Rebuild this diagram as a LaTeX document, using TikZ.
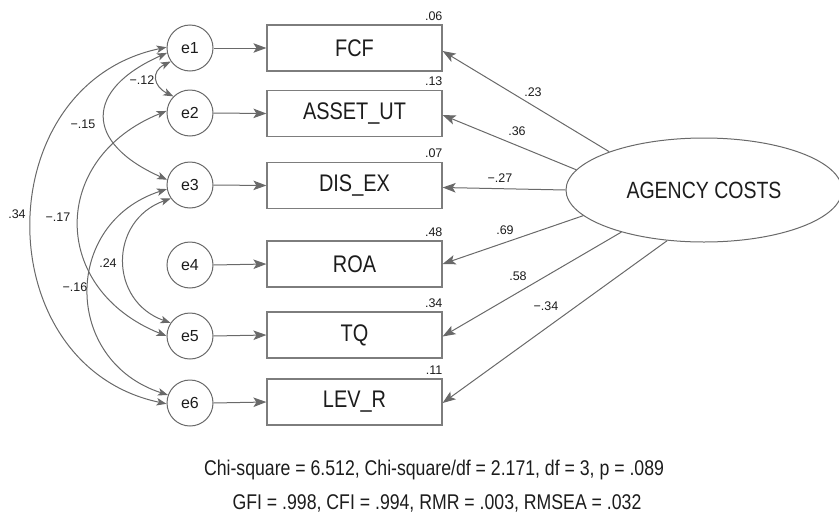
\documentclass[tikz,border=0pt]{standalone}
\usepackage{fontspec}
\setmainfont{Liberation Sans}[FakeStretch=0.83]
\newfontfamily\labelsans{Liberation Sans}
\usetikzlibrary{arrows.meta,shapes.geometric}
\definecolor{linegray}{RGB}{105,105,105}
\definecolor{boxgray}{RGB}{125,125,125}
\definecolor{ink}{RGB}{28,28,28}
\begin{document}
\begin{tikzpicture}[x=1pt,y=-1pt,
  conn/.style={draw=linegray, line width=1pt},
  path tip/.style={-{Stealth[length=13pt,width=9.5pt,inset=3pt]}},
  cov tip/.style={{Stealth[length=10pt,width=7.5pt,inset=2.5pt]}-{Stealth[length=10pt,width=7.5pt,inset=2.5pt]}},
  errnode/.style={circle, draw=linegray, line width=1pt, minimum size=46pt, inner sep=0pt,
    text=ink, font=\labelsans\fontsize{16}{16}\selectfont},
  obsnode/.style={rectangle, draw=boxgray, line width=1.2pt, minimum width=175pt,
    minimum height=46pt, inner sep=0pt, text=ink, font=\fontsize{24}{24}\selectfont},
  latnode/.style={ellipse, draw=linegray, line width=1pt, minimum width=276pt,
    minimum height=104pt, inner sep=0pt, text=ink, font=\fontsize{23.5}{23.5}\selectfont},
  rsq/.style={text=ink, inner sep=0pt, anchor=base east, font=\labelsans\fontsize{12.5}{12.5}\selectfont},
  coef/.style={text=ink, inner sep=0pt, font=\labelsans\fontsize{12.5}{12.5}\selectfont},
  fit/.style={text=ink, inner sep=0pt, font=\fontsize{21.3}{21.3}\selectfont}]

\useasboundingbox (0,0) rectangle (839,517);

% error terms
\node[errnode] (e1) at (190,48)  {e1};
\node[errnode] (e2) at (190,113) {e2};
\node[errnode] (e3) at (190,185) {e3};
\node[errnode] (e4) at (190,265) {e4};
\node[errnode] (e5) at (190,336) {e5};
\node[errnode] (e6) at (190,403) {e6};

% observed indicators
\node[obsnode] (fcf)   at (354.5,48)    {FCF};
\node[obsnode] (asset) at (354.5,113.5) {ASSET\_UT};
\node[obsnode] (disex) at (354.5,185.5) {DIS\_EX};
\node[obsnode] (roa)   at (354.5,264)   {ROA};
\node[obsnode] (tq)    at (354.5,335)   {TQ};
\node[obsnode] (levr)  at (354.5,402)   {LEV\_R};

% squared multiple correlations
\node[rsq] (r1) at ([yshift=4pt]fcf.north east)   {.06};
\node[rsq] (r2) at ([yshift=4pt]asset.north east) {.13};
\node[rsq] (r3) at ([yshift=4pt]disex.north east) {.07};
\node[rsq] (r4) at ([yshift=4pt]roa.north east)   {.48};
\node[rsq] (r5) at ([yshift=4pt]tq.north east)    {.34};
\node[rsq] (r6) at ([yshift=4pt]levr.north east)  {.11};

% latent factor
\node[latnode] (ac) at (704,190) {AGENCY COSTS};

% error -> indicator
\foreach \e/\b in {e1/fcf, e2/asset, e3/disex, e4/roa, e5/tq, e6/levr}
  \draw[conn, path tip] (\e.east) -- (\b.west);

% factor loadings
\draw[conn, path tip] (ac.158.4) -- ([yshift=-3pt]fcf.east);
\draw[conn, path tip] (ac.171.6) -- ([yshift=-1.5pt]asset.east);
\draw[conn, path tip] (ac.west)  -- ([yshift=-2pt]disex.east);
\draw[conn, path tip] (ac.192.7) -- (roa.east);
\draw[conn, path tip] (ac.207.4) -- ([yshift=-1.5pt]tq.east);
\draw[conn, path tip] (ac.234.8) -- ([yshift=-1pt]levr.east);

\node[coef] (l1) at (533,92)  {.23};
\node[coef] (l2) at (517,131) {.36};
\node[coef] (l3) at (500,178) {−.27};
\node[coef] (l4) at (505,230) {.69};
\node[coef] (l5) at (518,276) {.58};
\node[coef] (l6) at (546,306) {−.34};

% error covariances
\draw[conn, cov tip] (e1.215) .. controls +(-20,10) and +(-20,-10) .. (e2.135);
\draw[conn, cov tip] (e1.192) .. controls +(-83,37) and +(-83,-37) .. (e3.167);
\draw[conn, cov tip] (e2.175) .. controls +(-117,47) and +(-117,-47) .. (e5.180);
\draw[conn, cov tip] (e1.178) .. controls +(-180,38) and +(-180,-38) .. (e6.182);
\draw[conn, cov tip] (e3.215) .. controls +(-62,22) and +(-62,-22) .. (e5.146);
\draw[conn, cov tip] (e3.190) .. controls +(-105,34) and +(-105,-34) .. (e6.160);

\node[coef] (c1) at (142,80)  {−.12};
\node[coef] (c2) at (83,124)  {−.15};
\node[coef] (c3) at (58,217)  {−.17};
\node[coef] (c4) at (17,214)  {.34};
\node[coef] (c5) at (108,263) {.24};
\node[coef] (c6) at (75,287)  {−.16};

% fit statistics
\node[fit] (fit1) at (434,470) {Chi-square = 6.512, Chi-square/df = 2.171, df = 3, p = .089};
\node[fit] (fit2) at (437,503) {GFI = .998, CFI = .994, RMR = .003, RMSEA = .032};
\end{tikzpicture}
\end{document}
